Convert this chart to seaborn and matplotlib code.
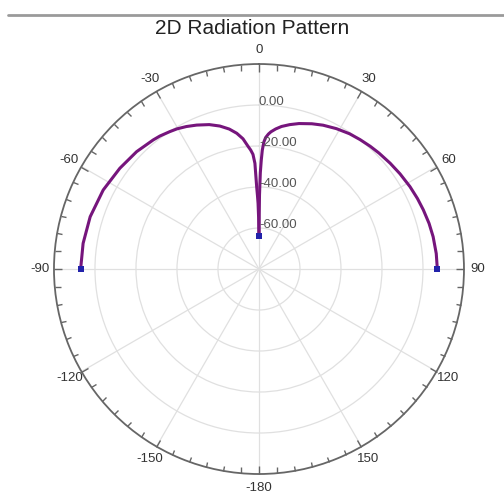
import numpy as np
import pandas as pd
import seaborn as sns
import matplotlib.pyplot as plt
from matplotlib.lines import Line2D

# Gain (dB), right half (0..90 deg) and left half (0..-90 deg)
right_deg = [0, 0.4, 0.8, 1.2, 1.6, 2.2, 2.9, 4, 5, 6.8, 9, 12, 15.4, 20, 24, 28.9,
             33.8, 38, 42.2, 46, 51.1, 56, 61.4, 66, 70.2, 75, 79.5, 85, 90]
right_db = [-64, -44, -33, -27, -22, -18, -15.8, -14, -12.8, -11.2, -9.6, -8.0, -6.4, -4.6, -3.2, -1.8,
            -0.6, 0.1, 0.8, 1.4, 2.2, 3.0, 3.9, 4.6, 5.2, 5.9, 6.4, 6.8, 7.0]
left_deg = [0, -0.4, -0.8, -1.2, -1.6, -2.2, -3, -4, -5, -7, -9.3, -12, -15.3, -19, -23.4, -27,
            -30.3, -33, -36.7, -39.3, -46.2, -54.1, -63.1, -72.8, -81.7, -90]
left_db = [-64, -55, -48, -44, -40, -28.4, -24, -21.8, -20.1, -16, -12.9, -10.2, -7.7, -5.5, -3.5, -2.0,
           -0.8, -0.1, 0.9, 1.4, 2.7, 3.8, 5.2, 6.2, 6.7, 7.0]

# axis setup
theta_ticks = [0, 30, 60, 90, 120, 150, 180, 210, 240, 270, 300, 330]
theta_labels = ['0', '30', '60', '90', '120', '150', '-180', '-150', '-120', '-90', '-60', '-30']
r_ticks = [-60, -40, -20, 0]
r_labels = ['-60.00', '-40.00', '-20.00', '0.00']
r_min, r_max = -80, 20

sns.set_style('white')
plt.rcParams['font.family'] = ['Liberation Sans', 'DejaVu Sans']

df = pd.concat([
    pd.DataFrame({'theta': np.deg2rad(right_deg), 'gain': right_db, 'side': 'right'}),
    pd.DataFrame({'theta': np.deg2rad(left_deg), 'gain': left_db, 'side': 'left'}),
])
ends = pd.DataFrame({'theta': np.deg2rad([right_deg[0], right_deg[-1], left_deg[-1]]),
                     'gain': [right_db[0], right_db[-1], left_db[-1]]})

fig = plt.figure(figsize=(5.04, 5.04), dpi=100)
ax = fig.add_axes([0.1071, 0.0595, 0.8135, 0.8135], projection='polar')
ax.set_theta_zero_location('N')
ax.set_theta_direction(-1)

sns.lineplot(data=df, x='theta', y='gain', hue='side', palette=['#76157c', '#76157c'],
             sort=False, estimator=None, linewidth=2.2, legend=False, ax=ax)
sns.scatterplot(data=ends, x='theta', y='gain', marker='s', s=14, color='#2222aa',
                edgecolor='#2222aa', linewidth=0, legend=False, ax=ax, zorder=5)

ax.set_ylim(r_min, r_max)
ax.set_xticks(np.deg2rad(theta_ticks))
ax.set_xticklabels(theta_labels, fontsize=9.5, color='#333333')
ax.set_xticks(np.deg2rad(np.arange(0, 360, 5)), minor=True)
# tick1 sits on the inner edge of a polar axes, tick2 on the outer circle
ax.tick_params(axis='x', which='both', bottom=False, top=True, direction='in',
               color='#666666', width=1.0)
ax.tick_params(axis='x', which='major', length=6, pad=3)
ax.tick_params(axis='x', which='minor', length=4)
ax.set_yticks(r_ticks)
ax.set_yticklabels([])
for val, lab in zip(r_ticks, r_labels):
    ax.text(0.0, val + 1.5, lab, fontsize=9.5, color='#555555', ha='left', va='center')

ax.grid(True, color='#e0e0e0', linewidth=0.9)
ax.spines['polar'].set_color('#666666')
ax.spines['polar'].set_linewidth(1.3)
ax.set_xlabel('')
ax.set_ylabel('')

fig.suptitle('2D Radiation Pattern', fontsize=15, y=0.962, color='#222222')
fig.add_artist(Line2D([0.016, 1.0], [0.971, 0.971], color='#9a9a9a', linewidth=2.0))

fig.savefig('out.png', dpi=100, facecolor='white')
